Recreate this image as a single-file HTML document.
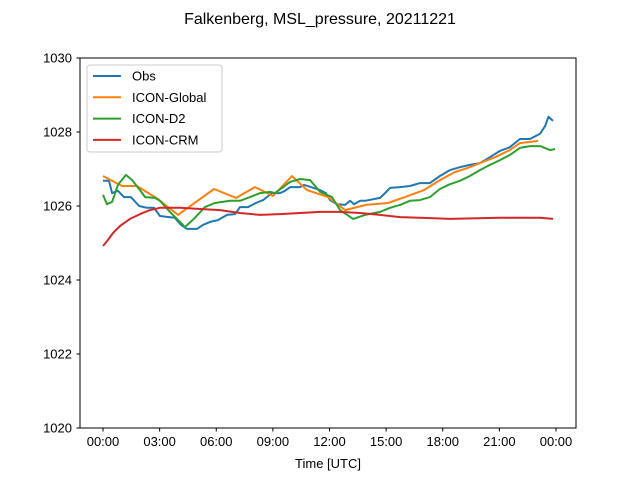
<!DOCTYPE html>
<html><head><meta charset="utf-8"><style>body{margin:0;background:#fff}svg{display:block;font-family:"Liberation Sans","DejaVu Sans",sans-serif}</style></head>
<body>
<svg id="c" width="640" height="480" xmlns="http://www.w3.org/2000/svg">
<rect width="640" height="480" fill="#fff"/>
<text x="320" y="24" font-size="16" text-anchor="middle">Falkenberg, MSL_pressure, 20211221</text>
<text x="328" y="468" font-size="13" text-anchor="middle">Time [UTC]</text>
<g id="plot"></g>
<rect x="80" y="58" width="496" height="370" fill="none" stroke="#000" stroke-width="1"/>
</svg>
<script>
const seriesNames=["Obs","ICON-Global","ICON-D2","ICON-CRM"];
const seriesColors=["#1f77b4","#ff7f0e","#2ca02c","#d62728"];
const yTicks=[1020,1022,1024,1026,1028,1030];
const xTickHours=[0,3,6,9,12,15,18,21,24];
const xTickLabels=["00:00","03:00","06:00","09:00","12:00","15:00","18:00","21:00","00:00"];
const obsT=[0,0.32,0.48,0.79,1.11,1.48,1.91,2.33,2.7,3.02,3.5,3.81,4.13,4.45,4.98,5.3,5.67,6.09,6.57,7.0,7.26,7.68,8.1,8.48,8.95,9.38,9.64,9.91,10.44,10.65,11.02,11.5,11.81,12.03,12.4,12.82,13.09,13.3,13.62,13.88,14.68,14.94,15.21,15.74,16.26,16.79,17.32,17.85,18.38,18.91,19.44,19.97,20.5,21.03,21.56,22.09,22.62,23.15,23.42,23.6,23.84];
const obsV=[1026.68,1026.68,1026.35,1026.41,1026.24,1026.24,1026.0,1025.95,1025.95,1025.73,1025.70,1025.68,1025.49,1025.38,1025.38,1025.49,1025.57,1025.62,1025.76,1025.78,1025.97,1025.97,1026.08,1026.16,1026.35,1026.35,1026.41,1026.51,1026.51,1026.57,1026.51,1026.43,1026.35,1026.16,1026.05,1026.03,1026.14,1026.05,1026.14,1026.14,1026.22,1026.35,1026.49,1026.51,1026.54,1026.62,1026.62,1026.81,1026.97,1027.05,1027.11,1027.16,1027.32,1027.49,1027.59,1027.81,1027.81,1027.95,1028.16,1028.41,1028.3];
const globT=[0,1.01,1.8,2.91,3.97,5.88,7.05,8.05,9.01,10.01,10.81,11.92,12.82,13.93,15.1,16.0,17.0,17.85,18.65,19.44,19.97,20.77,21.56,22.09,23.05];
const globV=[1026.81,1026.54,1026.54,1026.19,1025.76,1026.46,1026.22,1026.51,1026.27,1026.81,1026.43,1026.24,1025.89,1026.03,1026.08,1026.24,1026.43,1026.70,1026.92,1027.05,1027.16,1027.32,1027.51,1027.70,1027.76];
const d2T=[0,0.21,0.48,0.79,1.22,1.54,1.96,2.23,2.75,3.02,3.55,4.08,4.34,4.87,5.4,5.93,6.73,7.26,7.79,8.32,8.85,9.11,9.91,10.44,10.97,11.5,12.13,12.56,13.25,13.88,14.68,15.21,15.74,16.26,16.79,17.32,17.85,18.38,18.91,19.44,19.97,20.5,21.03,21.56,22.09,22.62,23.15,23.68,23.95];
const d2V=[1026.30,1026.05,1026.11,1026.57,1026.84,1026.70,1026.43,1026.24,1026.22,1026.14,1025.84,1025.57,1025.43,1025.68,1025.97,1026.08,1026.14,1026.14,1026.24,1026.35,1026.38,1026.35,1026.65,1026.73,1026.70,1026.38,1026.24,1025.89,1025.65,1025.76,1025.84,1025.95,1026.03,1026.14,1026.16,1026.24,1026.46,1026.59,1026.68,1026.81,1026.97,1027.11,1027.24,1027.38,1027.57,1027.62,1027.62,1027.51,1027.54];
const crmT=[0,0.26,0.53,0.9,1.43,1.96,2.49,3.02,4.08,5.14,6.2,7.26,8.32,9.38,10.44,11.5,12.56,13.62,14.68,15.74,16.79,18.38,21.03,23.15,23.84];
const crmV=[1024.92,1025.08,1025.27,1025.46,1025.65,1025.78,1025.89,1025.95,1025.95,1025.92,1025.89,1025.81,1025.76,1025.78,1025.81,1025.84,1025.84,1025.81,1025.76,1025.70,1025.68,1025.65,1025.68,1025.68,1025.65];
const NS="http://www.w3.org/2000/svg";
const g=document.getElementById('plot');
const xS=h=>103+h*453/24;
const yS=v=>428-(v-1020)*37;
function mk(t,a,p){const e=document.createElementNS(NS,t);for(const k in a)e.setAttribute(k,a[k]);(p||g).appendChild(e);return e;}
yTicks.forEach(v=>{
  const l=mk('line',{x1:76.5,x2:80,y1:yS(v),y2:yS(v),stroke:'#000'});
  
  
  const t=mk('text',{x:72,y:yS(v)+4.5,'font-size':13,'text-anchor':'end'});t.textContent=v;
  
  
});
xTickHours.forEach((h,i)=>{
  const l=mk('line',{x1:xS(h),x2:xS(h),y1:428,y2:431.5,stroke:'#000'});
  
  
  const t=mk('text',{x:xS(h),y:446,'font-size':13,'text-anchor':'middle'});t.textContent=xTickLabels[i];
  
  
});
const data=[[obsT,obsV],[globT,globV],[d2T,d2V],[crmT,crmV]];
data.forEach((d,i)=>{
  const pts=d[0].map((h,j)=>xS(h).toFixed(1)+','+yS(d[1][j]).toFixed(1)).join(' ');
  const p=mk('polyline',{points:pts,fill:'none',stroke:seriesColors[i],'stroke-width':2,'stroke-linejoin':'round'});
  
  
});
const lg=mk('g',{});


mk('rect',{x:87,y:65,width:135,height:87,rx:3,fill:'#fff','fill-opacity':0.8,stroke:'#ccc'},lg);
seriesNames.forEach((n,i)=>{
  const y=76+i*21.3;
  const l=mk('line',{x1:93,x2:121,y1:y,y2:y,stroke:seriesColors[i],'stroke-width':2},lg);
  
  
  const t=mk('text',{x:132,y:y+4.5,'font-size':13},lg);t.textContent=n;
  
  
});
</script>
</body></html>
